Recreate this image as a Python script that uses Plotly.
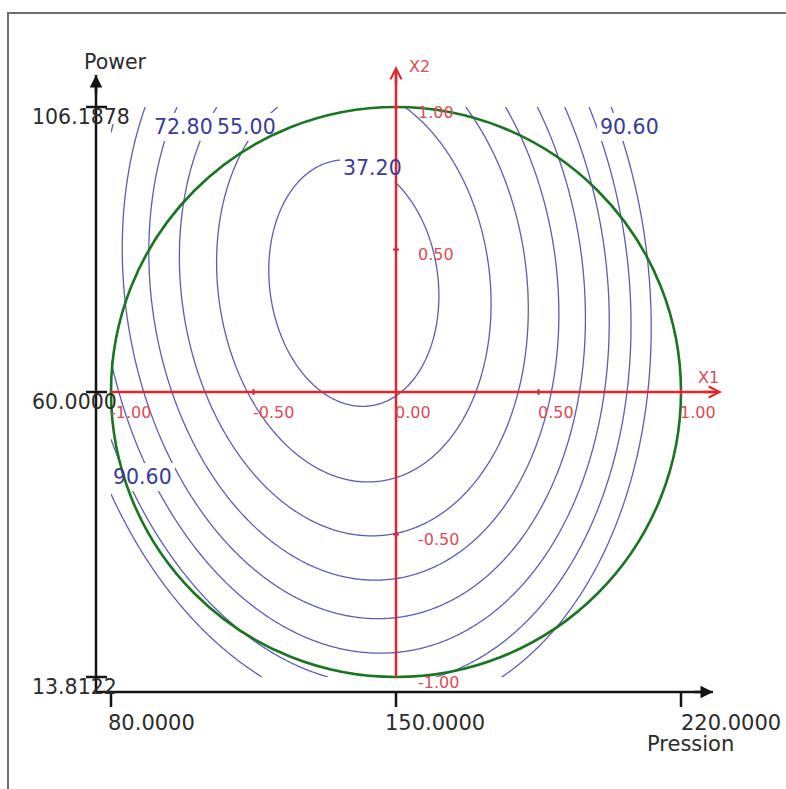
import numpy as np
import plotly.graph_objects as go

# ---- second-order model in coded variables (X1 = Pression, X2 = Power)
B0, B1, B2 = 36.9, 15.2, -21.6
B11, B22, B12 = 63.0, 30.0, 9.0

# ---- iso-response levels and the values written on the map
LEVELS = [37.20, 46.10, 55.00, 63.90, 72.80, 81.70, 90.60, 99.50]
LEVEL_LABELS = ["37.20", "72.80", "55.00", "90.60", "90.60"]

# ---- natural variables (centre and step of the coding)
PRESSION_CENTER, PRESSION_STEP = 150.0, 70.0
POWER_CENTER, POWER_STEP = 60.0, 46.1878
PRESSION_TICKS = [80.0, 150.0, 220.0]
PRESSION_TICK_TEXT = ["80.0000", "150.0000", "220.0000"]
POWER_TICKS = [13.8122, 60.0, 106.1878]
POWER_TICK_TEXT = ["13.8122", "60.0000", "106.1878"]

# ---- coded axes
CODED_TICKS = [-1.0, -0.5, 0.0, 0.5, 1.0]
X1_TICK_TEXT = ["-1.00", "-0.50", "0.00", "0.50", "1.00"]
X2_TICK_TEXT = ["-1.00", "-0.50", "", "0.50", "1.00"]

# ---- styling
FONT = "DejaVu Sans"
RED, RED_TXT = "#e2242d", "#de4a55"
GREEN = "#1a7520"
BLUE, BLUE_TXT = "#5c5cb8", "#3a3a9c"
BLACK, TXT = "#141414", "#2b2b2b"

W, H = 786, 789
PX = 285.0                    # pixels per coded unit
X0_PX, Y0_PX = 396.0, 392.0   # canvas position of the coded origin


def px(n):
    """length of n pixels expressed in coded units"""
    return n / PX


def nat_x(c):
    return PRESSION_CENTER + PRESSION_STEP * c


def nat_y(c):
    return POWER_CENTER + POWER_STEP * c


x_rng = [-X0_PX / PX, (W - X0_PX) / PX]
y_rng = [(Y0_PX - H) / PX, Y0_PX / PX]

# ---- response surface on the experimental square
g = np.linspace(-1.0, 1.0, 321)
X1, X2 = np.meshgrid(g, g)
Z = B0 + B1 * X1 + B2 * X2 + B11 * X1 ** 2 + B22 * X2 ** 2 + B12 * X1 * X2

fig = go.Figure()
fig.add_trace(go.Contour(
    x=g, y=g, z=Z,
    contours=dict(start=LEVELS[0], end=LEVELS[-1] + 0.01,
                  size=round(LEVELS[1] - LEVELS[0], 4), coloring="lines"),
    colorscale=[[0, BLUE], [1, BLUE]],
    line=dict(width=1.3),
    showscale=False, hoverinfo="skip",
))

# ---- natural-unit axes (Pression / Power) in black
ax_lo, ax_hi = -px(300), px(317)
cx, cy = nat_x(ax_lo), nat_y(ax_lo)
tx, ty = nat_x(ax_hi), nat_y(ax_hi)
bx, by = [cx, cx, None, cx, tx, None], [cy, ty, None, cy, cy, None]
for t in PRESSION_TICKS:
    bx += [t, t, None]
    by += [cy, cy - POWER_STEP * px(15), None]
for t in POWER_TICKS:
    bx += [cx - PRESSION_STEP * px(10), cx + PRESSION_STEP * px(11), None]
    by += [t, t, None]
fig.add_trace(go.Scatter(x=bx, y=by, mode="lines", xaxis="x2", yaxis="y2",
                         line=dict(color=BLACK, width=2.5),
                         hoverinfo="skip", showlegend=False))

shapes = []
# outer frame
shapes.append(dict(type="rect", xref="paper", yref="paper",
                   x0=8 / W, x1=1.05, y0=-0.05, y1=1 - 13 / H,
                   line=dict(color="#6e6e6e", width=2), layer="below"))

# white boxes behind the contour values
label_pos = [(-0.084, 0.786), (-0.747, 0.930), (-0.526, 0.930),
             (0.818, 0.930), (-0.888, -0.298)]
for (lx, ly) in label_pos:
    shapes.append(dict(type="rect", xref="x", yref="y",
                       x0=lx - px(32), x1=lx + px(32),
                       y0=ly - px(14), y1=ly + px(14),
                       fillcolor="white", line=dict(width=0), layer="above"))
# box of the top power label over the plotting square
shapes.append(dict(type="rect", xref="x", yref="y",
                   x0=-1.0, x1=-1.0 + px(18), y0=1.0 - px(17), y1=1.0,
                   fillcolor="white", line=dict(width=0), layer="above"))

# experimental domain
shapes.append(dict(type="circle", xref="x", yref="y", x0=-1, y0=-1, x1=1, y1=1,
                   line=dict(color=GREEN, width=2.6), layer="above"))

# coded axes
red_tip = px(326)
shapes.append(dict(type="line", xref="x", yref="y", x0=-1, y0=0, x1=red_tip - px(4), y1=0,
                   line=dict(color=RED, width=2.5), layer="above"))
shapes.append(dict(type="line", xref="x", yref="y", x0=0, y0=-1, x1=0, y1=red_tip - px(4),
                   line=dict(color=RED, width=2.5), layer="above"))
for t in CODED_TICKS:
    if t in (-1.0, 0.0):
        continue
    shapes.append(dict(type="line", xref="x", yref="y", x0=t, x1=t, y0=-px(3), y1=px(3),
                       line=dict(color=RED, width=2), layer="above"))
    shapes.append(dict(type="line", xref="x", yref="y", x0=-px(3), x1=px(3), y0=t, y1=t,
                       line=dict(color=RED, width=2), layer="above"))

ann = []
# arrow heads
ann.append(dict(x=red_tip, y=0, ax=red_tip - px(20), ay=0, xref="x", yref="y",
                axref="x", ayref="y", text="", showarrow=True, arrowhead=5,
                arrowsize=0.9, arrowwidth=2.4, arrowcolor=RED, standoff=0))
ann.append(dict(x=0, y=red_tip, ax=0, ay=red_tip - px(20), xref="x", yref="y",
                axref="x", ayref="y", text="", showarrow=True, arrowhead=5,
                arrowsize=0.9, arrowwidth=2.4, arrowcolor=RED, standoff=0))
ann.append(dict(x=tx, y=cy, ax=tx - PRESSION_STEP * px(20), ay=cy, xref="x2", yref="y2",
                axref="x2", ayref="y2", text="", showarrow=True, arrowhead=2,
                arrowsize=1.0, arrowwidth=2.5, arrowcolor=BLACK, standoff=0))
ann.append(dict(x=cx, y=ty, ax=cx, ay=ty - POWER_STEP * px(20), xref="x2", yref="y2",
                axref="x2", ayref="y2", text="", showarrow=True, arrowhead=2,
                arrowsize=1.0, arrowwidth=2.5, arrowcolor=BLACK, standoff=0))


def text(s, x, y, ref, color, size, xanchor="center", xshift=0, yshift=0):
    ann.append(dict(text=s, x=x, y=y, xref=ref[0], yref=ref[1], showarrow=False,
                    xanchor=xanchor, yanchor="middle", xshift=xshift, yshift=yshift,
                    font=dict(family=FONT, size=size, color=color)))


nat = ("x2", "y2")
coded = ("x", "y")
# natural axis labels
pression_shift = [-5, -13, -2]
for t, s, dx in zip(PRESSION_TICKS, PRESSION_TICK_TEXT, pression_shift):
    text(s, t, cy, nat, TXT, 21, "left", xshift=dx, yshift=-31)
for t, s in zip(POWER_TICKS, POWER_TICK_TEXT):
    text(s, cx, t, nat, TXT, 20.5, "left", xshift=-66, yshift=-10)
text("Power", cx, ty, nat, TXT, 20.5, "center", xshift=19, yshift=13)
text("Pression", PRESSION_TICKS[-1], cy, nat, TXT, 21, "center", xshift=9, yshift=-52)

# coded axis labels
for t, s in zip(CODED_TICKS, X1_TICK_TEXT):
    text(s, t, 0, coded, RED_TXT, 16, "left", xshift=-3, yshift=-20)
for t, s in zip(CODED_TICKS, X2_TICK_TEXT):
    if s:
        text(s, 0, t, coded, RED_TXT, 16, "left", xshift=20, yshift=-5)
text("X1", red_tip, 0, coded, RED_TXT, 16, "center", xshift=-14, yshift=15)
text("X2", 0, red_tip, coded, RED_TXT, 16, "center", xshift=23, yshift=0)

# contour values
for s, (lx, ly) in zip(LEVEL_LABELS, label_pos):
    text(s, lx, ly, coded, BLUE_TXT, 20.5, "center")

fig.update_layout(
    width=W, height=H, margin=dict(l=0, r=0, t=0, b=0, pad=0),
    paper_bgcolor="white", plot_bgcolor="white", showlegend=False,
    xaxis=dict(range=x_rng, visible=False, showgrid=False, zeroline=False),
    yaxis=dict(range=y_rng, visible=False, showgrid=False, zeroline=False),
    xaxis2=dict(range=[nat_x(v) for v in x_rng], overlaying="x", visible=False),
    yaxis2=dict(range=[nat_y(v) for v in y_rng], overlaying="y", visible=False),
    shapes=shapes, annotations=ann,
)

fig.write_html("out.html")
